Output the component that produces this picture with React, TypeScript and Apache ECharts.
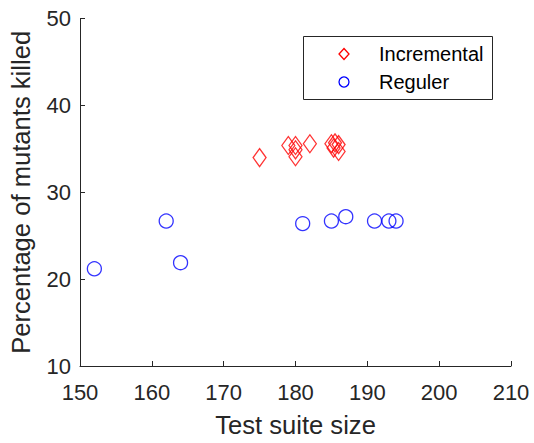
import React, { useEffect, useRef } from "react";
import * as echarts from "echarts";

const incrementalX = [175, 179, 180, 180, 180, 182, 185, 185.5, 185.3, 186, 186];
const incrementalY = [34.0, 35.4, 35.4, 34.9, 34.1, 35.6, 35.6, 35.7, 35.1, 34.7, 35.5];
const regulerX = [152, 162, 164, 181, 185, 187, 191, 193, 194];
const regulerY = [21.2, 26.7, 21.9, 26.4, 26.7, 27.2, 26.7, 26.7, 26.7];
const seriesNames = ["Incremental", "Reguler"];
const xTitle = "Test suite size";
const yTitle = "Percentage of mutants killed";

const FONT = "'Liberation Sans', Arial, Helvetica, sans-serif";
const AX = "#262626";
const RED = "#ff0000";
const BLUE = "#0000ff";

export default function App() {
  const ref = useRef<HTMLDivElement>(null);
  useEffect(() => {
    if (!ref.current) return;
    const chart = echarts.init(ref.current, undefined, { renderer: "svg" });
    const axisCommon = {
      axisLine: { show: true, onZero: false, lineStyle: { color: AX, width: 1 } },
      axisTick: { show: true, inside: true, length: 5, lineStyle: { color: AX, width: 1 } },
      splitLine: { show: false },
      nameLocation: "middle" as const,
      nameTextStyle: { color: AX, fontSize: 25.6, fontFamily: FONT },
    };
    const legX = 303.5;
    const legY = 36.5;
    const iconX = 344;
    const textX = 379;
    const rowY = [54, 82];
    chart.setOption({
      animation: false,
      backgroundColor: "#ffffff",
      grid: { left: 79, right: 23, top: 18.7, bottom: 76, containLabel: false },
      xAxis: {
        type: "value",
        min: 150,
        max: 210,
        interval: 10,
        name: xTitle,
        nameGap: 46,
        ...axisCommon,
        axisLabel: { color: AX, fontSize: 22, fontFamily: FONT, margin: 15 },
      },
      yAxis: {
        type: "value",
        min: 10,
        max: 50,
        interval: 10,
        name: yTitle,
        nameGap: 46,
        ...axisCommon,
        axisLabel: { color: AX, fontSize: 22, fontFamily: FONT, margin: 9 },
      },
      graphic: [
        {
          type: "group",
          z: 100,
          children: [
            {
              type: "rect",
              shape: { x: legX, y: legY, width: 189, height: 63 },
              style: { fill: "#ffffff", stroke: AX, lineWidth: 1 },
            },
            {
              type: "polygon",
              shape: {
                points: [
                  [iconX, rowY[0] - 5.5],
                  [iconX + 5, rowY[0]],
                  [iconX, rowY[0] + 5.5],
                  [iconX - 5, rowY[0]],
                ],
              },
              style: { fill: "none", stroke: RED, lineWidth: 1.3 },
            },
            {
              type: "circle",
              shape: { cx: iconX, cy: rowY[1], r: 5 },
              style: { fill: "none", stroke: BLUE, lineWidth: 1.3 },
            },
            {
              type: "text",
              x: textX,
              y: rowY[0],
              style: {
                text: seriesNames[0],
                fill: "#000000",
                fontSize: 20,
                fontFamily: FONT,
                verticalAlign: "middle",
                align: "left",
              },
            },
            {
              type: "text",
              x: textX,
              y: rowY[1],
              style: {
                text: seriesNames[1],
                fill: "#000000",
                fontSize: 20,
                fontFamily: FONT,
                verticalAlign: "middle",
                align: "left",
              },
            },
          ],
        },
      ],
      series: [
        {
          name: seriesNames[0],
          type: "scatter",
          symbol: "diamond",
          symbolSize: [13, 18],
          itemStyle: { color: "transparent", borderColor: RED, borderWidth: 1.3 },
          data: incrementalX.map((x, i) => [x, incrementalY[i]]),
        },
        {
          name: seriesNames[1],
          type: "scatter",
          symbol: "circle",
          symbolSize: 14,
          itemStyle: { color: "transparent", borderColor: BLUE, borderWidth: 1.3 },
          data: regulerX.map((x, i) => [x, regulerY[i]]),
        },
      ],
    });
    return () => chart.dispose();
  }, []);
  return (
    <div
      ref={ref}
      style={{ position: "fixed", left: 0, top: 0, width: 534, height: 443, background: "#fff" }}
    />
  );
}
